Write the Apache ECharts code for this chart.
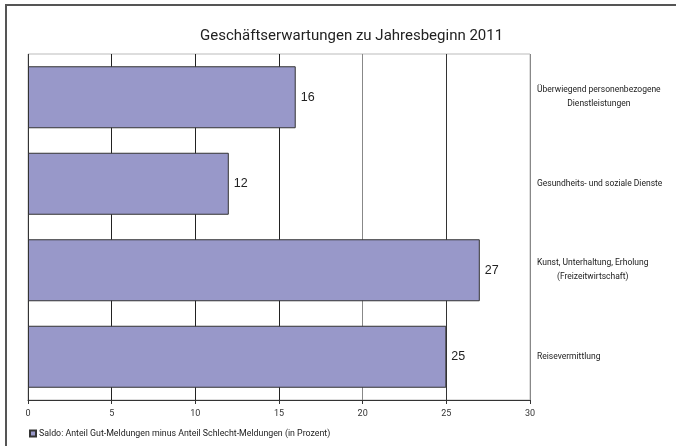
<!DOCTYPE html>
<html>
<head>
<meta charset="utf-8">
<script src="https://cdn.jsdelivr.net/npm/echarts@6/dist/echarts.min.js"></script>
<style>
html,body{margin:0;padding:0;background:#fff;}
#chart{width:676px;height:446px;}
</style>
</head>
<body>
<div id="chart"></div>
<script>
var titleText = 'Geschäftserwartungen zu Jahresbeginn 2011';
var categories = [
  'Überwiegend personenbezogene\nDienstleistungen',
  'Gesundheits- und soziale Dienste',
  'Kunst, Unterhaltung, Erholung\n(Freizeitwirtschaft)',
  'Reisevermittlung'
];
var values = [16, 12, 27, 25];
var seriesName = 'Saldo: Anteil Gut-Meldungen minus Anteil Schlecht-Meldungen (in Prozent)';
var axisMin = 0, axisMax = 30, axisStep = 5;

var condensed = 'Roboto,sans-serif';
var chart = echarts.init(document.getElementById('chart'), null, {renderer: 'canvas'});
chart.setOption({
  animation: false,
  backgroundColor: '#fff',
  graphic: [{
    type: 'rect', silent: true, z: 100,
    shape: {x: 6, y: 5, width: 700, height: 460},
    style: {fill: 'none', stroke: '#555', lineWidth: 2}
  }],
  title: {
    text: titleText,
    left: 195, top: 24,
    textStyle: {fontFamily: condensed, fontSize: 15, fontWeight: 'normal', color: '#222'}
  },
  legend: {
    data: [seriesName],
    left: 29, top: 429, padding: 0,
    icon: 'rect', itemWidth: 6, itemHeight: 6, itemGap: 0,
    textStyle: {fontFamily: condensed, fontSize: 8.8, color: '#222', padding: [0,0,0,-2]}
  },
  grid: {
    left: 28, right: 146, top: 54, bottom: 46,
    show: true, borderColor: '#bbb', borderWidth: 1
  },
  xAxis: {
    type: 'value', min: axisMin, max: axisMax, interval: axisStep,
    axisLine: {show: true, lineStyle: {color: '#333', width: 1}},
    axisTick: {show: true, length: 4, lineStyle: {color: '#333'}},
    axisLabel: {margin: 9, fontFamily: condensed, fontSize: 9, color: '#333'},
    splitLine: {show: true, showMinLine: true, showMaxLine: true,
      lineStyle: {color: ['#333', '#222', '#222', '#222', '#888', '#333', '#888'], width: 1}}
  },
  yAxis: {
    type: 'category', data: categories, inverse: true, position: 'right',
    axisLine: {show: false}, axisTick: {show: false}, splitLine: {show: false},
    axisLabel: {
      margin: 7, align: 'left', fontFamily: condensed, fontSize: 8.5, color: '#222', lineHeight: 14,
      formatter: function (v) {
        var lines = v.split('\n');
        if (lines.length === 1) return v;
        return lines.map(function (l) { return '{c|' + l + '}'; }).join('\n');
      },
      rich: {c: {align: 'center', fontFamily: condensed, fontSize: 8.5, color: '#222', lineHeight: 14}}
    }
  },
  series: [{
    type: 'bar', name: seriesName, data: values, barWidth: 62,
    itemStyle: {color: '#9898c9', borderColor: '#333', borderWidth: 1},
    label: {show: true, position: 'right', distance: 5, fontFamily: '"Liberation Sans",Arial,sans-serif', fontSize: 12.5, color: '#222'}
  }]
});
</script>
</body>
</html>
